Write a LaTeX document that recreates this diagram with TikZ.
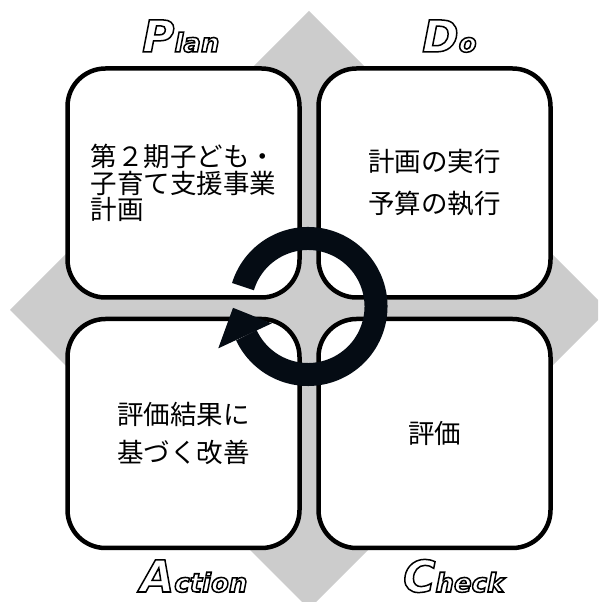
\documentclass[tikz,border=0pt]{standalone}
\usepackage{fontspec}
\newfontfamily\jp{Noto Sans CJK JP}
\newfontfamily\pdcafont{DejaVu Sans}[BoldItalicFont={DejaVu Sans Bold Oblique}]
\definecolor{diam}{RGB}{204,204,204}
\definecolor{ringc}{RGB}{5,12,20}
% outlined letters: stroke only
\newcommand\hollow[1]{\special{pdf:literal 1 Tr 1.5 w}#1\special{pdf:literal 0 Tr 0.3985 w}}
\newcommand\pdca[2]{\hollow{{\fontsize{44}{44}\selectfont #1}{\fontsize{26}{26}\selectfont #2}}}
\begin{document}
\begin{tikzpicture}[x=1pt,y=1pt,
  box/.style={draw,line width=4.5pt,fill=white,rounded corners=38pt,inner sep=0pt,
    minimum width=232pt,minimum height=229pt,font=\jp\fontsize{26.5}{26.5}\selectfont},
  lab/.style={anchor=base west,inner sep=0pt,font=\pdcafont\bfseries\itshape}]
\useasboundingbox (0,0) rectangle (598,602);
\clip (0,0) rectangle (598,602);
\fill[diam] (309,-7) -- (608,292) -- (309,591) -- (10,292) -- cycle;
\node[box,align=left] (plan) at (183.5,419) {第２期子ども・\\子育て支援事業\\計画};
\node[box,align=center,font=\jp\fontsize{26.5}{42}\selectfont] (do) at (434.5,419) {計画の実行\\予算の執行};
\node[box,align=center,font=\jp\fontsize{26.5}{38}\selectfont] (act) at (183.5,168.5) {評価結果に\\基づく改善};
\node[box] (chk) at (434.5,168.5) {評価};
\node[lab] (lplan) at (142,550) {\pdca{P}{lan}};
\node[lab] (ldo) at (422,550) {\pdca{D}{o}};
\node[lab] (lact) at (140,10) {\pdca{A}{ction}};
\node[lab] (lchk) at (403,10) {\pdca{C}{heck}};
% cycle arrow
\coordinate (cyc) at (308,295.5);
\draw[ringc,line width=23pt] ([shift={(163:68)}]cyc) arc[start angle=163,end angle=-155,radius=68];
\fill[ringc] ([shift={(205:40)}]cyc) -- ([shift={(181:75)}]cyc) -- ([shift={(205:99)}]cyc) -- cycle;
\end{tikzpicture}
\end{document}
